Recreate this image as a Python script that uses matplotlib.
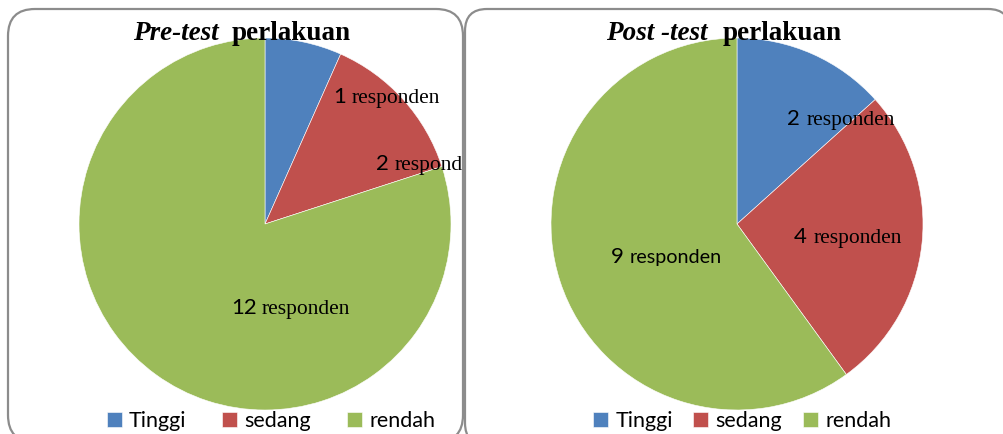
import matplotlib
matplotlib.use("Agg")
import matplotlib.pyplot as plt
from matplotlib.patches import FancyBboxPatch
from matplotlib.transforms import Bbox, TransformedBbox

# ---- data ----
categories = ["Tinggi", "sedang", "rendah"]
pre_values = [1, 2, 12]
post_values = [2, 4, 9]
colors = ["#4F81BD", "#C0504D", "#9BBB59"]
pre_title = ("Pre-test", "perlakuan")
post_title = ("Post -test", "perlakuan")
word = "responden"

W, H = 1004, 434
fig = plt.figure(figsize=(W / 100, H / 100), dpi=100)
fig.patch.set_facecolor("white")
T = fig.dpi_scale_trans

SERIF = "Liberation Serif"
SANS = "Lato"


def P(x, y):
    return x / 100, (H - y) / 100


def panel(x0, y0, x1, y1, r):
    pad = r
    bx, by = P(x0 + pad, y1 - pad)
    w = (x1 - x0 - 2 * pad) / 100
    h = (y1 - y0 - 2 * pad) / 100
    p = FancyBboxPatch((bx, by), w, h, boxstyle=f"round,pad={pad/100},rounding_size={r/100}",
                       transform=T, facecolor="white", edgecolor="#8c8c8c", linewidth=1.6,
                       zorder=0)
    fig.patches.append(p)
    return p


left_panel = panel(8, 9, 463, 442, 27)
right_panel = panel(465, 9, 1010, 445, 22)
left_clip = TransformedBbox(Bbox.from_extents(8 / 100, (H - 442) / 100, 462 / 100, (H - 9) / 100), T)


def pie_axes(cx, cy, r):
    ax = fig.add_axes([(cx - r) / W, (H - cy - r) / H, 2 * r / W, 2 * r / H])
    ax.set_zorder(1)
    return ax


def draw_pie(ax, values):
    wedges, _ = ax.pie(values, colors=colors, startangle=90, counterclock=False,
                       radius=1, wedgeprops=dict(edgecolor="white", linewidth=0.4))
    for w in wedges:
        w.set_clip_on(False)
    ax.set_xlim(-1, 1)
    ax.set_ylim(-1, 1)
    ax.set_aspect("equal")
    ax.axis("off")
    return wedges


ax1 = pie_axes(265, 224, 186)
w1 = draw_pie(ax1, pre_values)
ax2 = pie_axes(737, 224, 186)
w2 = draw_pie(ax2, post_values)


def label(num, nx, wx, y, word_font, word_size, clip=None):
    t1 = fig.text(*P(nx, y), str(num), transform=T, family=SANS, fontsize=16,
                  ha="left", va="baseline", zorder=5)
    t2 = fig.text(*P(wx, y), word, transform=T, family=word_font, fontsize=word_size,
                  ha="left", va="baseline", zorder=5)
    if clip is not None:
        for t in (t1, t2):
            t.set_clip_box(clip)
            t.set_clip_on(True)


# pre-test labels (number x, word x, baseline y)
label(pre_values[0], 333, 352, 103, SERIF, 15.5)
label(pre_values[1], 376, 395, 170, SERIF, 15.5, clip=left_clip)
label(pre_values[2], 231, 262, 314, SERIF, 15.5)
# post-test labels
label(post_values[0], 787, 807, 125, SERIF, 15.5)
label(post_values[1], 794, 814, 243, SERIF, 15.5)
label(post_values[2], 611, 630, 263, SANS, 14.2)

# titles
for (a, b), xa, xb in ((pre_title, 133, 232), (post_title, 606, 723)):
    fig.text(*P(xa, 40), a, transform=T, family=SERIF, fontsize=19.5, fontweight="bold",
             style="italic", ha="left", va="baseline", zorder=6)
    fig.text(*P(xb, 40), b, transform=T, family=SERIF, fontsize=19.5, fontweight="bold",
             ha="left", va="baseline", zorder=6)

# legends
leg_kw = dict(loc="center", ncol=3, frameon=False, handlelength=0.7, handleheight=0.7,
              handletextpad=0.35, borderaxespad=0,
              prop=dict(family=SANS, size=15.5))
l1 = fig.legend(w1, categories, bbox_to_anchor=(271 / W, (H - 421) / H),
                columnspacing=1.65, **leg_kw)
l2 = fig.legend(w2, categories, bbox_to_anchor=(742 / W, (H - 421) / H),
                columnspacing=0.95, **leg_kw)
for l in (l1, l2):
    l.set_zorder(6)

fig.savefig("out.png", dpi=100, facecolor="white")
